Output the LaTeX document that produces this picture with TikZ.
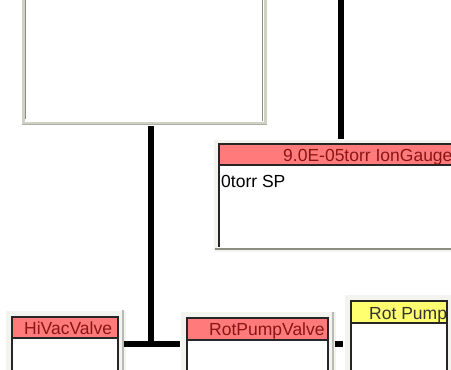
\documentclass[tikz,border=0pt]{standalone}
\usepackage{fontspec}
\setmainfont{Liberation Sans}
\definecolor{hdrred}{HTML}{FF7B7B}
\definecolor{hdryel}{HTML}{FFFF70}
\definecolor{txtred}{HTML}{8A1515}
\definecolor{frameout}{HTML}{D0D0C4}
\definecolor{framein}{HTML}{8C8C80}
\definecolor{halo}{HTML}{F3F3EF}
\tikzset{
  conn/.style={line width=6pt, black},
  boxline/.style={draw=black!85, line width=1.3pt},
  hdrtext/.style={font=\fontsize{17.5}{17.5}\selectfont, text=txtred, inner sep=0pt},
  bodytext/.style={font=\fontsize{17.5}{17.5}\selectfont, text=black, inner sep=0pt},
}
\begin{document}
\begin{tikzpicture}[x=1pt,y=-1pt]
\useasboundingbox (0,0) rectangle (451,370);
\begin{scope}
\clip (0,0) rectangle (451,370);
\fill[white] (0,0) rectangle (451,370);

% top window
\node[draw=none, fill=white, minimum width=241pt, minimum height=130pt, inner sep=0pt, anchor=south west] (topwin) at (23,124) {};
\draw[frameout, line width=3pt] (23.5,-5) -- (23.5,123) -- (265,123) -- (265,-5);
\draw[framein, line width=1.2pt] (25.5,-5) -- (25.5,119) ;
\draw[framein, line width=1.2pt] (262.5,-5) -- (262.5,121);
\draw[framein!70, line width=1.5pt] (22,124.5) -- (267,124.5);

% ion gauge box
\fill[halo] (214,140) rectangle (460,252);
\node[fill=white, minimum width=242pt, minimum height=104pt, inner sep=0pt, anchor=north west] (ion) at (218,144) {};
\fill[hdrred] (218,144) rectangle (460,165);
\draw[black!85, line width=1.2pt] (218,144) -- (460,144);
\draw[black!85, line width=1.2pt] (218,165) -- (460,165);
\draw[black!85, line width=2pt] (219,144) -- (219,247);
\draw[framein, line width=2.5pt] (215,249) -- (460,249);
\node[hdrtext, anchor=base west] (iontitle) at (283,161) {9.0E-05torr IonGauge};
\node[bodytext, anchor=base west] (ionsp) at (221,187) {0torr SP};

% HiVacValve
\fill[halo] (6,311) rectangle (126,375);
\node[fill=white, minimum width=106pt, minimum height=60pt, inner sep=0pt, anchor=north west] (hivac) at (12,317) {};
\begin{scope}
\clip (12,317) rectangle (118,338);
\fill[hdrred] (12,317) rectangle (118,338);
\node[hdrtext, anchor=base west] (hivactitle) at (24,334) {HiVacValve};
\end{scope}
\draw[boxline] (12,375) -- (12,317) -- (118,317) -- (118,375);
\draw[boxline] (12,338) -- (118,338);
\draw[framein!60, line width=1.5pt] (123,310) -- (123,375);

% RotPumpValve
\fill[halo] (181,312) rectangle (336,375);
\node[fill=white, minimum width=141pt, minimum height=60pt, inner sep=0pt, anchor=north west] (rpv) at (187,318) {};
\begin{scope}
\clip (187,318) rectangle (328,340);
\fill[hdrred] (187,318) rectangle (328,340);
\node[hdrtext, anchor=base west] (rpvtitle) at (209,335) {RotPumpValve};
\end{scope}
\draw[boxline] (187,375) -- (187,318) -- (328,318) -- (328,375);
\draw[boxline] (187,340) -- (328,340);
\draw[framein!60, line width=1.5pt] (333,312) -- (333,375);

% Rot Pump
\fill[halo] (345,295) rectangle (460,375);
\node[fill=white, minimum width=96pt, minimum height=70pt, inner sep=0pt, anchor=north west] (rp) at (351,301) {};
\begin{scope}
\clip (351,301) rectangle (447,323);
\fill[hdryel] (351,301) rectangle (447,323);
\node[hdrtext, text=black!80, anchor=base west] (rptitle) at (369,319) {Rot Pump};
\end{scope}
\draw[boxline] (351,375) -- (351,301) -- (447,301) -- (447,375);
\draw[boxline] (351,323) -- (447,323);

% connectors
\coordinate (topfoot) at (150.5,126);
\coordinate (tee) at (150.5,344);
\coordinate (barL) at (124,344);
\coordinate (barR) at (180,344);
\coordinate (ionfoot) at (341,139);
\coordinate (iontop) at (341,-5);
\coordinate (stubL) at (335,344);
\coordinate (stubR) at (343,344);
\draw[conn] (topfoot) -- (tee);
\draw[conn] (barL) -- (barR);
\draw[conn] (iontop) -- (ionfoot);
\draw[conn] (stubL) -- (stubR);
\end{scope}
\end{tikzpicture}
\end{document}
